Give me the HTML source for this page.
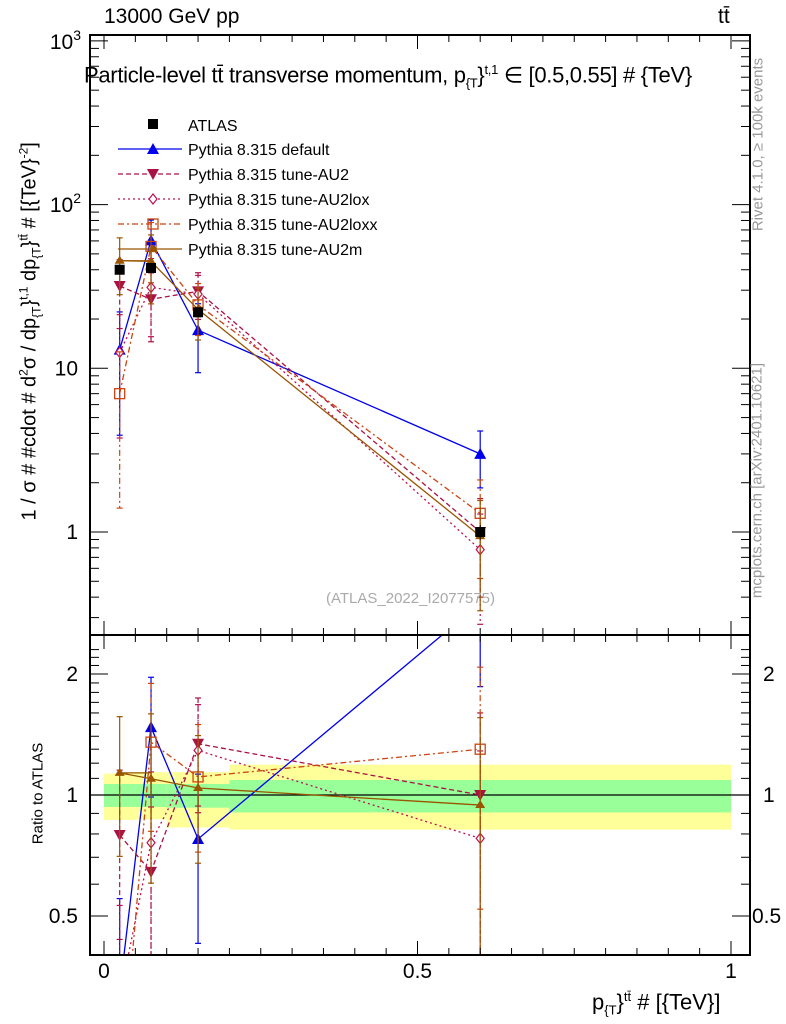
<!DOCTYPE html>
<html><head><meta charset="utf-8"><style>
html,body{margin:0;background:#fff;overflow:hidden;width:786px;height:1024px;}
svg text{font-family:"Liberation Sans",sans-serif;}
</style></head><body>
<svg id="c" width="786" height="1024" xmlns="http://www.w3.org/2000/svg" style="position:absolute;left:0;top:0"></svg>
<script>
const xPos=[0.025,0.075,0.15,0.6];
const binLo=[0,0.05,0.1,0.2];
const binHi=[0.05,0.1,0.2,1.0];
const atlas=[40,41,22,1.0];
const atlasErr=[0.04,0.04,0.06,0.1];
const bandYlo=[0.867,0.87,0.83,0.82];
const bandYhi=[1.13,1.14,1.14,1.19];
const bandGlo=[0.934,0.934,0.93,0.905];
const bandGhi=[1.065,1.065,1.065,1.09];
const defVals=[13,60.5,17.1,3.0];
const au2Vals=[31.8,26.4,29.5,1.0];
const loxVals=[12.5,31.2,28.4,0.78];
const loxxVals=[7,55.5,24.4,1.3];
const au2mVals=[45.4,45,22.9,0.944];
const defErr=[0.7,0.33,0.45,0.38];
const au2Err=[0.45,0.45,0.3,0.6];
const loxErr=[0.7,0.5,0.3,0.65];
const loxxErr=[0.8,0.4,0.35,0.6];
const au2mErr=[0.38,0.45,0.35,0.65];

const NS="http://www.w3.org/2000/svg";
const svg=document.getElementById('c');
function mk(t,a,p){const e=document.createElementNS(NS,t);for(const k in a)e.setAttribute(k,a[k]);(p||svg).appendChild(e);return e;}
const L=90,R=750,T=35,M=635,B=955;
const X=v=>104+627*v;
const Y=v=>532-163.7*Math.log10(v);
const YR=r=>795-402*Math.log10(r);

const defs=mk('defs',{});
const c1=mk('clipPath',{id:'cm'},defs);mk('rect',{x:L,y:T,width:R-L,height:M-T},c1);
const c2=mk('clipPath',{id:'cr'},defs);mk('rect',{x:L,y:M,width:R-L,height:B-M},c2);
const gm=mk('g',{'clip-path':'url(#cm)'});
const gr=mk('g',{'clip-path':'url(#cr)'});

for(let i=0;i<4;i++){
 const y=mk('rect',{x:X(binLo[i]),y:YR(bandYhi[i]),width:X(binHi[i])-X(binLo[i]),height:YR(bandYlo[i])-YR(bandYhi[i]),fill:'#ffff99'},gr);
 
}
for(let i=0;i<4;i++){
 const g=mk('rect',{x:X(binLo[i]),y:YR(bandGhi[i]),width:X(binHi[i])-X(binLo[i]),height:YR(bandGlo[i])-YR(bandGhi[i]),fill:'#99ff99'},gr);
 
}
mk('line',{x1:L,x2:R,y1:YR(1),y2:YR(1),stroke:'#000','stroke-width':1.2},gr);

function marker(g,type,x,y,col){
 let e;
 if(type==='sq')e=mk('rect',{x:x-5,y:y-5,width:10,height:10,fill:'#000'},g);
 else if(type==='tu')e=mk('polygon',{points:`${x},${y-6} ${x-6},${y+5} ${x+6},${y+5}`,fill:col},g);
 else if(type==='td')e=mk('polygon',{points:`${x},${y+6} ${x-6},${y-5} ${x+6},${y-5}`,fill:col},g);
 else if(type==='di')e=mk('polygon',{points:`${x},${y-5} ${x-4},${y} ${x},${y+5} ${x+4},${y}`,fill:'#fff',stroke:col,'stroke-width':1.2},g);
 else if(type==='os')e=mk('rect',{x:x-5,y:y-5,width:10,height:10,fill:'none',stroke:col,'stroke-width':1.3},g);
 else if(type==='st')e=mk('polygon',{points:`${x},${y-5} ${x-5},${y+3} ${x+5},${y+3}`,fill:col},g);
 return e;
}
const series=[
 {n:'default',v:defVals,e:defErr,c:'#0000ee',d:'',m:'tu',lab:'Pythia 8.315 default'},
 {n:'au2',v:au2Vals,e:au2Err,c:'#aa1144',d:'5,3',m:'td',lab:'Pythia 8.315 tune-AU2'},
 {n:'au2lox',v:loxVals,e:loxErr,c:'#bb1155',d:'2,3',m:'di',lab:'Pythia 8.315 tune-AU2lox'},
 {n:'au2loxx',v:loxxVals,e:loxxErr,c:'#cc4411',d:'6,3,2,3',m:'os',lab:'Pythia 8.315 tune-AU2loxx'},
 {n:'au2m',v:au2mVals,e:au2mErr,c:'#995500',d:'',m:'st',lab:'Pythia 8.315 tune-AU2m'}
];
series.forEach(s=>{
 [[gm,Y,v=>v],[gr,YR,(v,i)=>v/atlas[i]]].forEach(([g,yf,tr])=>{
  const gg=mk('g',{},g);
  const pts=s.v.map((v,i)=>[X(xPos[i]),yf(tr(v,i))]);
  mk('polyline',{points:pts.map(p=>p.join(',')).join(' '),fill:'none',stroke:s.c,'stroke-width':1.3,'stroke-dasharray':s.d},gg);
  s.v.forEach((v,i)=>{
   const val=tr(v,i),x=X(xPos[i]);
   const hi=yf(val*(1+s.e[i])),lo=yf(Math.max(val*(1-s.e[i]),1e-3));
   mk('line',{x1:x,x2:x,y1:hi,y2:lo,stroke:s.c,'stroke-width':1.2,'stroke-dasharray':s.d},gg);
   mk('line',{x1:x-3,x2:x+3,y1:hi,y2:hi,stroke:s.c,'stroke-width':1.2},gg);
   mk('line',{x1:x-3,x2:x+3,y1:lo,y2:lo,stroke:s.c,'stroke-width':1.2},gg);
   if(s.n==='au2m'&&i==0)mk('line',{x1:x,x2:X(xPos[1]),y1:yf(val),y2:yf(val),stroke:s.c,'stroke-width':1.2},gg);
   const m=marker(gg,s.m,x,yf(val),s.c);
   
  });
 });
});
const ga=mk('g',{},gm);
atlas.forEach((v,i)=>{
 const x=X(xPos[i]);
 mk('line',{x1:x,x2:x,y1:Y(v*(1+atlasErr[i])),y2:Y(v*(1-atlasErr[i])),stroke:'#000'},ga);
 const m=marker(ga,'sq',x,Y(v));
});

[[T,M],[M,B]].forEach(([a,b],k)=>{
 const f=mk('rect',{x:L,y:a,width:R-L,height:b-a,fill:'none',stroke:'#000','stroke-width':2});
 
});
for(let i=0;i<=20;i++){
 const v=i*0.05,x=X(v),len=(i%10==0)?14:7;
 [[T,1],[M,-1],[M,1],[B,-1]].forEach(([y,d])=>mk('line',{x1:x,x2:x,y1:y,y2:y+d*len,stroke:'#000','stroke-width':1}));
}
[0,0.5,1].forEach(v=>{const t=mk('text',{x:X(v),y:978,'font-size':21,'text-anchor':'middle'});t.textContent=v;});
for(let d=-1;d<=3;d++)for(let m=1;m<10;m++){
 const v=m*Math.pow(10,d),y=Y(v);if(y<T||y>M)continue;
 const len=m==1?18:9;
 mk('line',{x1:L,x2:L+len,y1:y,y2:y,stroke:'#000'});mk('line',{x1:R,x2:R-len,y1:y,y2:y,stroke:'#000'});
}
[['1',1],['10',10]].forEach(([s,v])=>{const t=mk('text',{x:78,y:Y(v)+7,'font-size':21,'text-anchor':'end'});t.textContent=s;});
[[2,204],[3,41]].forEach(([e,y])=>{const t=mk('text',{x:81,y:y+8,'font-size':21,'text-anchor':'end'});t.innerHTML='10<tspan dy="-9" font-size="14">'+e+'</tspan>';});
[0.4,0.5,0.6,0.7,0.8,0.9,1,1.1,1.2,1.3,1.4,1.5,1.6,1.7,1.8,1.9,2,2.1,2.2,2.3].forEach(r=>{
 const y=YR(r);if(y<M||y>B)return;const len=(r==0.5||r==1||r==2)?18:9;
 mk('line',{x1:L,x2:L+len,y1:y,y2:y,stroke:'#000'});mk('line',{x1:R,x2:R-len,y1:y,y2:y,stroke:'#000'});
});
[['0.5',0.5,752],['1',1,763],['2',2,763]].forEach(([s,v,xr])=>{
 let t=mk('text',{x:78,y:YR(v)+7,'font-size':21,'text-anchor':'end'});t.textContent=s;
 t=mk('text',{x:xr,y:YR(v)+7,'font-size':21});t.textContent=s;
});
const lg=mk('g',{});
let t=mk('text',{x:188,y:131,'font-size':16},lg);t.textContent='ATLAS';marker(lg,'sq',153,124);
series.forEach((s,i)=>{
 const y=149+25*i;
 const e=mk('g',{},lg);
 mk('line',{x1:118,x2:182,y1:y,y2:y,stroke:s.c,'stroke-width':1.3,'stroke-dasharray':s.d},e);
 marker(e,s.m,153,y,s.c);
 const tt=mk('text',{x:188,y:y+6,'font-size':16},e);tt.textContent=s.lab;
});
</script>
<div style="position:absolute;left:0;top:0;width:786px;height:1024px;overflow:hidden;pointer-events:none;font-family:'Liberation Sans',sans-serif;">
<div style="position:absolute;left:104px;top:5px;font-size:21px;">13000 GeV pp</div>
<div style="position:absolute;left:718px;top:5px;font-size:21px;">tt̄</div>
<div style="position:absolute;left:84px;top:62px;font-size:22px;letter-spacing:-0.3px;white-space:nowrap;">Particle-level tt̄ transverse momentum, p<sub style="font-size:13px">{T</sub>}<sup style="font-size:13px">t,1</sup> ∈ [0.5,0.55] # {TeV}</div>
<div style="position:absolute;left:326px;top:590px;font-size:15px;color:#aaa;">(ATLAS_2022_I2077575)</div>
<div style="position:absolute;left:592px;top:984px;font-size:22px;white-space:nowrap;line-height:26px;">p<sub style="font-size:13px">{T</sub>}<sup style="font-size:13px">tt̄</sup> # [{TeV}]</div>
<div style="position:absolute;left:-215px;top:318px;width:490px;transform:rotate(-90deg);font-size:20px;white-space:nowrap;text-align:center;">1 / σ # #cdot # d<sup style="font-size:12px">2</sup>σ / dp<sub style="font-size:12px">{T</sub>}<sup style="font-size:12px">t,1</sup> dp<sub style="font-size:12px">{T</sub>}<sup style="font-size:12px">tt̄</sup> # [{TeV}<sup style="font-size:12px">-2</sup>]</div>
<div style="position:absolute;left:-32px;top:785px;width:140px;transform:rotate(-90deg);font-size:15px;text-align:center;white-space:nowrap;">Ratio to ATLAS</div>
<div style="position:absolute;left:648px;top:136px;width:220px;transform:rotate(-90deg);font-size:15px;color:#999;white-space:nowrap;text-align:center;">Rivet 4.1.0, ≥ 100k events</div>
<div style="position:absolute;left:612px;top:472px;width:290px;transform:rotate(-90deg);font-size:15px;color:#999;white-space:nowrap;text-align:center;">mcplots.cern.ch [arXiv:2401.10621]</div>
</div>
</body></html>
